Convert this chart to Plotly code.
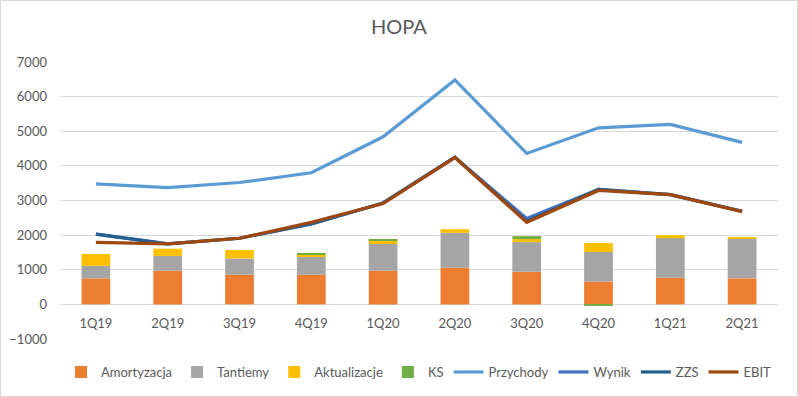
import plotly.graph_objects as go

categories = ["1Q19", "2Q19", "3Q19", "4Q19", "1Q20", "2Q20", "3Q20", "4Q20", "1Q21", "2Q21"]

amortyzacja = [752, 971, 857, 857, 971, 1057, 943, 657, 771, 752]
tantiemy = [362, 429, 467, 524, 772, 1010, 857, 857, 1143, 1162]
aktualizacje = [343, 210, 247, 48, 114, 104, 86, 257, 86, 29]
ks = [0, 0, 0, 28, 29, 0, 85, -25, 0, 0]

przychody = [3480, 3370, 3520, 3800, 4840, 6480, 4360, 5100, 5200, 4680]
wynik = [2030, 1750, 1910, 2320, 2930, 4250, 2480, 3320, 3170, 2690]
zzs = [2030, 1750, 1910, 2320, 2930, 4250, 2400, 3320, 3170, 2690]
ebit = [1790, 1750, 1910, 2370, 2910, 4240, 2370, 3290, 3170, 2680]

y_ticks = [-1000, 0, 1000, 2000, 3000, 4000, 5000, 6000, 7000]

FONT = "Lato"
GRAY = "#595959"

fig = go.Figure()
bars = [
    ("Amortyzacja", amortyzacja, "#ED7D31"),
    ("Tantiemy", tantiemy, "#A5A5A5"),
    ("Aktualizacje", aktualizacje, "#FFC000"),
    ("KS", ks, "#70AD47"),
]
for name, vals, col in bars:
    fig.add_trace(go.Bar(x=categories, y=vals, name=name, marker_color=col,
                         marker_line_width=0))

lines = [
    ("Przychody", przychody, "#5B9BD5"),
    ("Wynik", wynik, "#4472C4"),
    ("ZZS", zzs, "#255E91"),
    ("EBIT", ebit, "#9E480E"),
]
for name, vals, col in lines:
    fig.add_trace(go.Scatter(x=categories, y=vals, name=name, mode="lines",
                             line=dict(color=col, width=3.2)))

W, H = 798, 397
ml, mr, mt, mb = 60, 20, 62, 58
pw, ph = W - ml - mr, H - mt - mb

fig.update_layout(
    width=W, height=H,
    margin=dict(l=ml, r=mr, t=mt, b=mb, autoexpand=False),
    paper_bgcolor="white", plot_bgcolor="white",
    barmode="relative", bargap=0.6,
    title=dict(text="HOPA", x=0.5, xanchor="center", y=1 - 27 / H, yanchor="middle",
               font=dict(family=FONT, size=20, color=GRAY)),
    font=dict(family=FONT, size=13, color=GRAY),
    legend=dict(orientation="h", x=0.5, xanchor="center", y=-(372 - mt - ph) / ph,
                yanchor="middle", font=dict(family=FONT, size=13, color=GRAY),
                itemwidth=30, tracegroupgap=0),
    showlegend=True,
    xaxis=dict(anchor="free", position=35 / ph, showline=False, showgrid=False,
               ticks="", tickfont=dict(family=FONT, size=13, color=GRAY),
               ticklabelstandoff=10),
    yaxis=dict(range=[-1000, 7000], tickvals=y_ticks, showgrid=True,
               gridcolor="#D9D9D9", gridwidth=1, zeroline=False, showline=False,
               tickfont=dict(family=FONT, size=13, color=GRAY), ticks="",
               ticklabelstandoff=12),
    shapes=[dict(type="rect", xref="paper", yref="paper",
                 x0=-(ml - 0.5) / pw, x1=1 + (mr - 0.5) / pw,
                 y0=-(mb - 0.5) / ph, y1=1 + (mt - 0.5) / ph,
                 line=dict(color="#D9D9D9", width=1), layer="below")],
)

fig.write_html("out.html", config={"displayModeBar": False},
               post_script="document.body.style.margin='0';document.body.style.overflow='hidden';")
